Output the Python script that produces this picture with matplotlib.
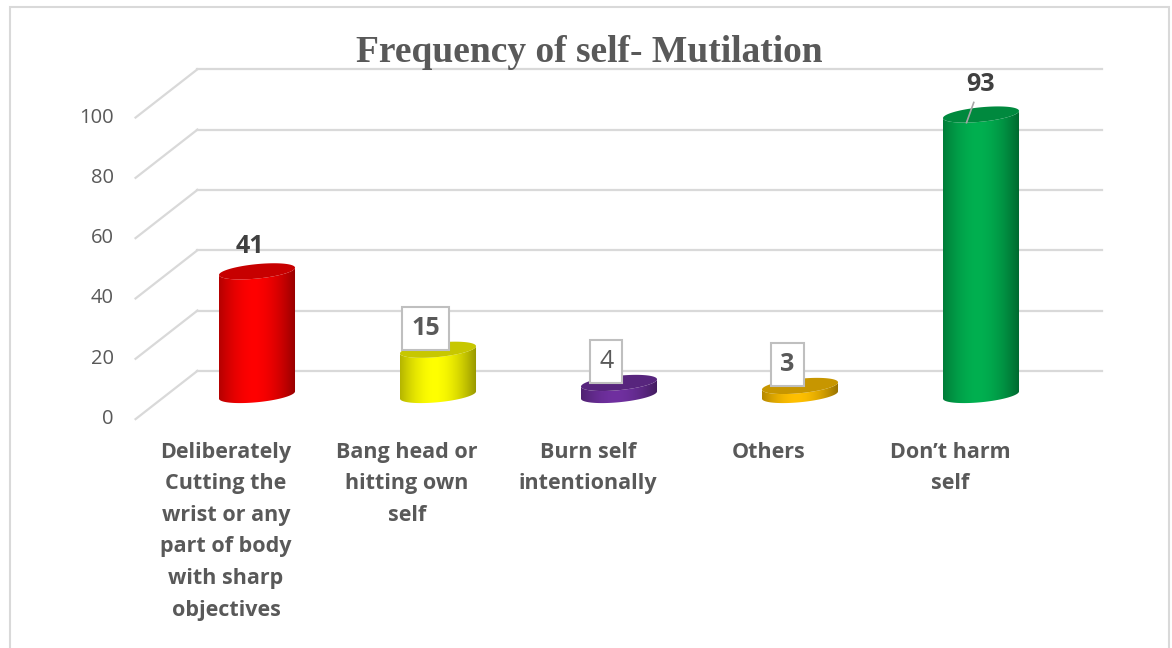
import numpy as np
import matplotlib.pyplot as plt
from matplotlib.patches import Polygon, Rectangle
import matplotlib.colors as mcolors

# survey counts
categories = ["Deliberately\nCutting the\nwrist or any\npart of body\nwith sharp\nobjectives",
              "Bang head or\nhitting own\nself",
              "Burn self\nintentionally",
              "Others",
              "Don\u2019t harm\nself"]
counts = [41, 15, 4, 3, 93]
bar_colors = ["#FF0000", "#FFFF00", "#7030A0", "#FFC000", "#00B050"]
label_boxed = [False, True, True, True, False]
yticks = [0, 20, 40, 60, 80, 100]

# oblique 3d look: depth shift in category units / value units
DX = 0.171
DY = 8.0
A = 0.21      # cylinder half width
B = 2.4       # ellipse half height
S = 1.2       # ellipse tilt

grid_col = "#D9D9D9"
text_col = "#595959"

fig = plt.figure(figsize=(11.72, 6.48), dpi=100)
ax = fig.add_axes([0, 0, 1, 1])
ax.axis("off")

# chart frame
fig.patches.append(Rectangle((10 / 1172, -0.02), 1159 / 1172, 1.02 - 7 / 648,
                             transform=fig.transFigure, fill=False,
                             edgecolor=grid_col, lw=1.5))

fig.text(0.503, 1 - 62 / 648, "Frequency of self- Mutilation", ha="center", va="baseline",
         fontsize=27, fontweight="bold", family="Liberation Serif", color=text_col)

# back wall and side wall gridlines
for v in yticks:
    ax.plot([-0.5 + DX, 4.5 + DX], [v + DY, v + DY], color=grid_col, lw=1.6, zorder=1)
    ax.plot([-0.5 - DX, -0.5 + DX], [v - DY, v + DY], color=grid_col, lw=1.6, zorder=1)
    ax.text(-0.5 - DX - 0.12, v - DY, str(v), ha="right", va="center",
            fontsize=14.5, family="Open Sans", color=text_col)


def shade(base, n=200):
    rgb = np.array(mcolors.to_rgb(base))
    u = np.linspace(0, 1, n)
    f = 1 - 0.42 * (np.abs(u - 0.45) / 0.55) ** 1.8
    img = rgb[None, :] * f[:, None]
    return img[None, :, :]


def ellipse(cx, cy, t):
    return cx + A * np.cos(t), cy + B * np.sin(t) + S * np.cos(t)


for i, (v, col) in enumerate(zip(counts, bar_colors)):
    t_front = np.linspace(np.pi, 2 * np.pi, 60)
    bx, by = ellipse(i, 0, t_front)
    tx, ty = ellipse(i, v, t_front[::-1])
    body = Polygon(np.column_stack([np.r_[bx, tx], np.r_[by, ty]]), closed=True,
                   facecolor="none", edgecolor="none")
    ax.add_patch(body)
    im = ax.imshow(shade(col), extent=[i - A, i + A, -B - S - 1, v + B + S + 1],
                   aspect="auto", zorder=2 + i, interpolation="bilinear")
    im.set_clip_path(body)
    t_all = np.linspace(0, 2 * np.pi, 120)
    ex, ey = ellipse(i, v, t_all)
    top_col = np.array(mcolors.to_rgb(col)) * 0.78
    ax.add_patch(Polygon(np.column_stack([ex, ey]), closed=True, facecolor=top_col,
                         edgecolor="none", zorder=2.5 + i))

    # value labels
    if label_boxed[i]:
        ax.text(i - 0.07, v + 7, str(v), ha="center", va="center", fontsize=18,
                fontweight="normal" if v == 4 else "bold", family="Open Sans",
                color=text_col, zorder=20,
                bbox=dict(boxstyle="square,pad=0.36", facecolor="white",
                          edgecolor="#BFBFBF", lw=1.5))
    elif v > 90:
        ax.text(i, v + 10, str(v), ha="center", va="center", fontsize=18,
                fontweight="bold", family="Open Sans", color="#404040", zorder=20)
        ax.plot([i - 0.04, i - 0.08], [v + 4, v - 2.7], color="#A6A6A6", lw=1.2, zorder=20)
    else:
        ax.text(i - 0.04, v + 8.2, str(v), ha="center", va="center", fontsize=18,
                fontweight="bold", family="Open Sans", color="#404040", zorder=20)

    ax.text(i - DX, -DY - 7.5, categories[i], ha="center", va="top", fontsize=15.5,
            fontweight="bold", family="Open Sans", color=text_col, linespacing=1.66)

ax.set_xlim((0 - 257) / 181, (1172 - 257) / 181)
ax.set_ylim((395 - 648) / 3.016, 395 / 3.016)

fig.savefig("out.png", dpi=100)
